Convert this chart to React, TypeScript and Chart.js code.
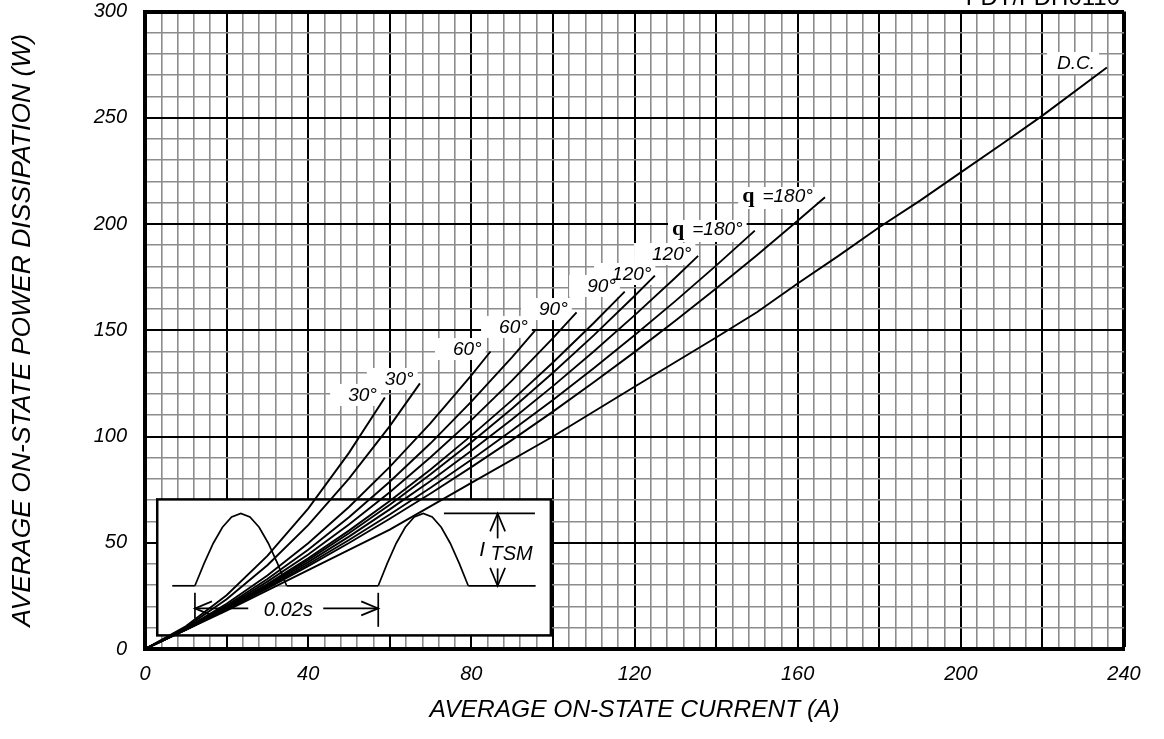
import React, { useEffect, useRef } from 'react';
import { Chart, registerables } from 'chart.js';

Chart.register(...registerables);

const FONT = '"Liberation Sans", Arial, Helvetica, sans-serif';
const SERIF = '"Liberation Serif", "Times New Roman", serif';

// Axis tick labels
const xTickLabels = [0, 40, 80, 120, 160, 200, 240];
const yTickLabels = [0, 50, 100, 150, 200, 250, 300];

// Curves: average on-state current (A) vs. average power dissipation (W)
const sine30_I = [0, 10, 20, 30, 40, 50, 58.8];
const sine30_P = [0, 10.7, 25.3, 43.8, 66.1, 92.3, 118.4];

const rect30_I = [0, 10, 20, 30, 40, 50, 60, 67.4];
const rect30_P = [0, 10.2, 23.4, 39.4, 58.3, 80.2, 104.9, 125];

const sine60_I = [0, 10, 20, 30, 40, 50, 60, 70, 80, 84.7];
const sine60_P = [0, 9.7, 21.3, 34.6, 49.8, 66.8, 85.7, 106.3, 128.8, 140];

const rect60_I = [0, 10, 20, 30, 40, 50, 60, 70, 80, 90, 95.6];
const rect60_P = [0, 9.5, 20.5, 32.9, 46.7, 62, 78.7, 96.8, 116.4, 137.4, 149.8];

const sine90_I = [0, 10, 20, 30, 40, 50, 60, 70, 80, 90, 100, 105.8];
const sine90_P = [0, 9.4, 19.9, 31.7, 44.5, 58.6, 73.8, 90.2, 107.7, 126.4, 146.3, 158.4];

const rect90_I = [0, 10, 20, 30, 40, 50, 60, 70, 80, 90, 100, 110, 117.6];
const rect90_P = [0, 9.3, 19.5, 30.6, 42.7, 55.7, 69.6, 84.5, 100.4, 117.1, 134.8, 153.4, 168.2];

const sine120_I = [0, 10, 20, 30, 40, 50, 60, 70, 80, 90, 100, 110, 120, 125];
const sine120_P = [0, 9.2, 19.3, 30.2, 41.9, 54.5, 67.9, 82.2, 97.3, 113.2, 130, 147.6, 166.1, 175.7];

const rect120_I = [0, 10, 20, 30, 40, 50, 60, 70, 80, 90, 100, 110, 120, 130, 135.6];
const rect120_P = [0, 9.2, 19, 29.6, 40.9, 52.9, 65.7, 79.1, 93.3, 108.1, 123.7, 140, 157, 174.7, 185];

const sine180_I = [0, 10, 20, 30, 40, 50, 60, 70, 80, 90, 100, 110, 120, 130, 140, 149.5];
const sine180_P = [0, 9.1, 18.8, 29, 39.9, 51.3, 63.3, 75.9, 89.1, 102.9, 117.2, 132.1, 147.6, 163.7, 180.4, 196.9];

const rect180_I = [0, 10, 20, 30, 40, 50, 60, 70, 80, 90, 100, 110, 120, 130, 140, 150, 160, 166.7];
const rect180_P = [0, 9, 18.6, 28.5, 39, 49.9, 61.3, 73.2, 85.6, 98.4, 111.7, 125.5, 139.7, 154.5, 169.7, 185.3, 201.5, 212.6];

const dc_I = [0, 20, 40, 60, 80, 100, 120, 140, 150, 160, 170, 180, 190, 200, 210, 220, 235.8];
const dc_P = [0, 18.1, 37.1, 56.2, 78.2, 100, 123.4, 146.6, 158.5, 172, 185, 198.5, 211, 224.3, 237.5, 251, 273.7];

const curveI = [sine30_I, rect30_I, sine60_I, rect60_I, sine90_I, rect90_I, sine120_I, rect120_I, sine180_I, rect180_I, dc_I];
const curveP = [sine30_P, rect30_P, sine60_P, rect60_P, sine90_P, rect90_P, sine120_P, rect120_P, sine180_P, rect180_P, dc_P];

// Curve annotations (text, anchor current, anchor power)
const labelText = ['30°', '30°', '60°', '60°', '90°', '90°', '120°', '120°', '=180°', '=180°', 'D.C.'];
const labelI = [49.8, 58.8, 75.5, 86.8, 96.6, 108.4, 114.5, 124.3, 129.2, 146.4, 223.6];
const labelP = [119.1, 126.6, 140.7, 151.1, 159.5, 170.4, 176, 185.4, 197.2, 212.7, 275.3];
const labelTheta = [false, false, false, false, false, false, false, false, true, true, false];

// Inset box extent (data units)
const insetI = [3.0, 99.5];
const insetP = [6.4, 70.4];

function line(ctx: CanvasRenderingContext2D, pts: number[][]) {
  ctx.beginPath();
  ctx.moveTo(pts[0][0], pts[0][1]);
  for (let i = 1; i < pts.length; i++) ctx.lineTo(pts[i][0], pts[i][1]);
  ctx.stroke();
}

const LABEL_FONT = `italic 19px ${FONT}`;
const Q_FONT = `bold 22px ${SERIF}`;

const overlayPlugin = {
  id: 'overlay',
  beforeDatasetsDraw(chart: any) {
    const { ctx, scales } = chart;
    const x = scales.x;
    const y = scales.y;
    ctx.save();

    // ---- inset ----
    const L = x.getPixelForValue(insetI[0]);
    const R = x.getPixelForValue(insetI[1]);
    const T = y.getPixelForValue(insetP[1]);
    const B = y.getPixelForValue(insetP[0]);
    ctx.fillStyle = '#fff';
    ctx.fillRect(L, T, R - L, B - T);
    ctx.lineWidth = 2.5;
    ctx.strokeStyle = '#000';
    ctx.strokeRect(L, T, R - L, B - T);

    const base = T + 86.4;
    const peak = T + 14;
    ctx.lineWidth = 1.7;
    ctx.lineCap = 'butt';
    ctx.strokeStyle = '#9a9a9a';
    line(ctx, [[L + 37.7, base], [L + 129.4, base]]);
    line(ctx, [[L + 221, base], [L + 311, base]]);
    ctx.strokeStyle = '#000';
    line(ctx, [[L + 15, base], [L + 37.7, base]]);
    line(ctx, [[L + 129.4, base], [L + 221, base]]);
    line(ctx, [[L + 311, base], [L + 378.4, base]]);
    const bump = (a: number, b: number) => {
      const pts: number[][] = [];
      const n = 10;
      for (let i = 0; i <= n; i++) {
        const t = i / n;
        pts.push([a + (b - a) * t, base - (base - peak) * Math.sin(Math.PI * t)]);
      }
      line(ctx, pts);
    };
    bump(L + 37.7, L + 129.4);
    bump(L + 221, L + 311);

    // I_TSM marker
    line(ctx, [[L + 286.7, peak], [L + 377.7, peak]]);
    const ax = L + 340.4;
    line(ctx, [[ax, peak], [ax, T + 39]]);
    line(ctx, [[ax - 7.5, peak + 18], [ax, peak], [ax + 7.5, peak + 18]]);
    line(ctx, [[ax, T + 69], [ax, base]]);
    line(ctx, [[ax - 7.5, base - 18], [ax, base], [ax + 7.5, base - 18]]);
    ctx.fillStyle = '#000';
    ctx.textAlign = 'center';
    ctx.textBaseline = 'middle';
    ctx.font = `italic 21px ${FONT}`;
    ctx.fillText('I', L + 325, T + 51);
    ctx.font = `italic 20px ${FONT}`;
    ctx.fillText('TSM', L + 354.4, T + 55);

    // 0.02s dimension
    const ay = T + 109;
    line(ctx, [[L + 37.7, T + 93.4], [L + 37.7, T + 119]]);
    line(ctx, [[L + 221, T + 93.4], [L + 221, T + 127.4]]);
    line(ctx, [[L + 37.7, ay], [L + 91, ay]]);
    line(ctx, [[L + 166, ay], [L + 221, ay]]);
    line(ctx, [[L + 54.7, ay - 7], [L + 37.7, ay], [L + 54.7, ay + 7]]);
    line(ctx, [[L + 204, ay - 7], [L + 221, ay], [L + 204, ay + 7]]);
    ctx.font = `italic 20px ${FONT}`;
    ctx.fillText('0.02s', L + 131, T + 110.7);

    // ---- curve labels: white backgrounds first, then texts ----
    ctx.textAlign = 'left';
    ctx.textBaseline = 'middle';
    const qGap = 8;
    for (let i = 0; i < labelText.length; i++) {
      const lx = x.getPixelForValue(labelI[i]);
      const ly = y.getPixelForValue(labelP[i]);
      ctx.fillStyle = '#fff';
      if (labelTheta[i]) {
        ctx.font = Q_FONT;
        const qw = ctx.measureText('q').width;
        ctx.font = LABEL_FONT;
        const tw = ctx.measureText(labelText[i]).width;
        ctx.fillRect(lx - 4, ly - 10, qw + qGap + tw + 8, 22);
      } else {
        ctx.font = LABEL_FONT;
        const tw = ctx.measureText(labelText[i]).width;
        const padL = labelText[i] === 'D.C.' ? 10 : 18;
        ctx.fillRect(lx - padL, ly - 12, tw + padL + 4, 22);
      }
    }
    ctx.fillStyle = '#000';
    for (let i = 0; i < labelText.length; i++) {
      const lx = x.getPixelForValue(labelI[i]);
      const ly = y.getPixelForValue(labelP[i]);
      if (labelTheta[i]) {
        ctx.font = Q_FONT;
        const qw = ctx.measureText('q').width;
        ctx.fillText('q', lx, ly - 1);
        ctx.font = LABEL_FONT;
        ctx.fillText(labelText[i], lx + qw + qGap, ly);
      } else {
        ctx.font = LABEL_FONT;
        ctx.fillText(labelText[i], lx, ly);
      }
    }
    ctx.restore();
  },
  afterDraw(chart: any) {
    const { ctx } = chart;
    ctx.save();
    ctx.fillStyle = '#000';
    ctx.font = `24px ${FONT}`;
    ctx.textAlign = 'right';
    ctx.textBaseline = 'alphabetic';
    ctx.fillText('FDT/FDH0110', 1120, 5);
    ctx.restore();
  },
};

export default function App() {
  const canvasRef = useRef<HTMLCanvasElement | null>(null);

  useEffect(() => {
    const canvas = canvasRef.current;
    if (!canvas) return;
    const datasets = curveI.map((xs, k) => ({
      data: xs.map((v, i) => ({ x: v, y: curveP[k][i] })),
      borderColor: '#000',
      borderWidth: 1.9,
      pointRadius: 0,
      tension: 0,
      fill: false,
    }));
    const chart = new Chart(canvas, {
      type: 'line',
      data: { datasets },
      options: {
        responsive: false,
        animation: false,
        devicePixelRatio: 1,
        layout: { padding: { left: 0, right: 40, top: 11.5, bottom: 0 } },
        plugins: { legend: { display: false }, tooltip: { enabled: false } },
        scales: {
          x: {
            type: 'linear',
            min: 0,
            max: 240,
            afterFit: (s: any) => {
              s.height = 90;
              s.paddingLeft = 0;
              s.paddingRight = 0;
            },
            ticks: {
              stepSize: 4,
              autoSkip: false,
              maxRotation: 0,
              padding: 13,
              color: '#000',
              font: { family: FONT, size: 20, style: 'italic' },
              callback: (v: any) => (xTickLabels.includes(Number(v)) ? String(v) : ''),
            },
            grid: {
              drawTicks: false,
              color: (c: any) => (c.tick && c.tick.value % 20 === 0 ? '#000' : '#8c8c8c'),
              lineWidth: (c: any) => {
                const v = c.tick ? c.tick.value : 0;
                if (v === 240) return 4;
                return v % 20 === 0 ? 2 : 1.6;
              },
            },
            border: { display: true, color: '#000', width: 4 },
            title: {
              display: true,
              text: 'AVERAGE ON-STATE CURRENT (A)',
              color: '#000',
              font: { family: FONT, size: 24.5, style: 'italic' },
              padding: { top: 0, bottom: 14.3 },
            },
          },
          y: {
            type: 'linear',
            min: 0,
            max: 300,
            afterFit: (s: any) => {
              s.width = 145;
              s.paddingTop = 0;
              s.paddingBottom = 0;
            },
            ticks: {
              stepSize: 10,
              autoSkip: false,
              padding: 18,
              color: '#000',
              font: { family: FONT, size: 20, style: 'italic' },
              callback: (v: any) => (yTickLabels.includes(Number(v)) ? String(v) : ''),
            },
            grid: {
              drawTicks: false,
              color: (c: any) => (c.tick && c.tick.value % 50 === 0 ? '#000' : '#8c8c8c'),
              lineWidth: (c: any) => {
                const v = c.tick ? c.tick.value : 0;
                if (v === 300) return 4;
                return v % 50 === 0 ? 2 : 1.6;
              },
            },
            border: { display: true, color: '#000', width: 4 },
            title: {
              display: true,
              text: 'AVERAGE ON-STATE POWER DISSIPATION (W)',
              color: '#000',
              font: { family: FONT, size: 26.5, style: 'italic' },
              padding: { top: 6.5, bottom: 0 },
            },
          },
        },
      },
      plugins: [overlayPlugin],
    });
    return () => chart.destroy();
  }, []);

  return (
    <div style={{ position: 'fixed', left: 0, top: 0, width: 1164, height: 739, background: '#fff' }}>
      <canvas ref={canvasRef} width={1164} height={739} style={{ display: 'block' }} />
    </div>
  );
}
